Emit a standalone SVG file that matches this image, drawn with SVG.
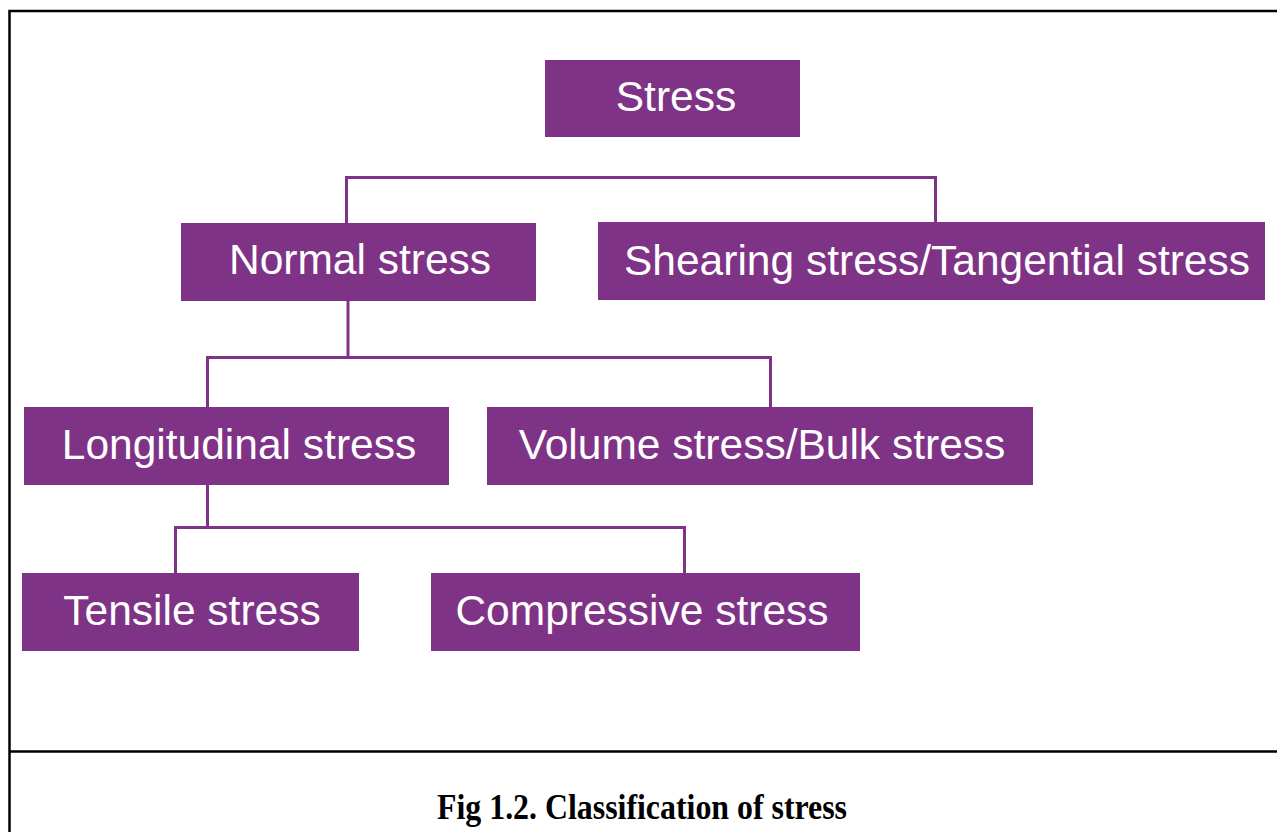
<svg xmlns="http://www.w3.org/2000/svg" width="1277" height="832" viewBox="0 0 1277 832">
<style>
.box{fill:#7f3386}
.lbl{font-family:"Liberation Sans",Arial,sans-serif;font-size:42.5px;fill:#ffffff;text-anchor:middle}
.con{stroke:#7f3386;stroke-width:3;fill:none}
.frame{stroke:#000;stroke-width:2.5;fill:none}
.cap{font-family:"Liberation Serif","Times New Roman",serif;font-weight:bold;font-size:36px;fill:#000;text-anchor:middle}
</style>
<rect width="1277" height="832" fill="#fff"/>
<g id="frame">
<path class="frame" d="M9.5 832 V11 H1277"/>
<path class="frame" d="M9.5 751.5 H1277"/>
</g>
<g id="connectors">
<path class="con" d="M346.5 223 V177.5 H935.5 V222"/>
<path class="con" d="M348 301 V357.5"/>
<path class="con" d="M207.5 407 V357.5 H770.5 V407"/>
<path class="con" d="M207.5 485 V527.5"/>
<path class="con" d="M175.5 573 V527.5 H684.5 V573"/>
</g>
<g id="stress"><rect class="box" x="545" y="60" width="255" height="77"/><text class="lbl" x="676" y="111">Stress</text></g>
<g id="normal"><rect class="box" x="181" y="223" width="355" height="78"/><text class="lbl" x="360" y="274">Normal stress</text></g>
<g id="shearing"><rect class="box" x="598" y="222" width="667" height="78"/><text class="lbl" x="937" y="275">Shearing stress/Tangential stress</text></g>
<g id="longitudinal"><rect class="box" x="24" y="407" width="425" height="78"/><text class="lbl" x="239" y="459">Longitudinal stress</text></g>
<g id="volume"><rect class="box" x="487" y="407" width="546" height="78"/><text class="lbl" x="762" y="459">Volume stress/Bulk stress</text></g>
<g id="tensile"><rect class="box" x="22" y="573" width="337" height="78"/><text class="lbl" x="192" y="625">Tensile stress</text></g>
<g id="compressive"><rect class="box" x="431" y="573" width="429" height="78"/><text class="lbl" x="642" y="625">Compressive stress</text></g>
<text class="cap" x="642" y="819" textLength="410" lengthAdjust="spacingAndGlyphs">Fig 1.2. Classification of stress</text>
</svg>
